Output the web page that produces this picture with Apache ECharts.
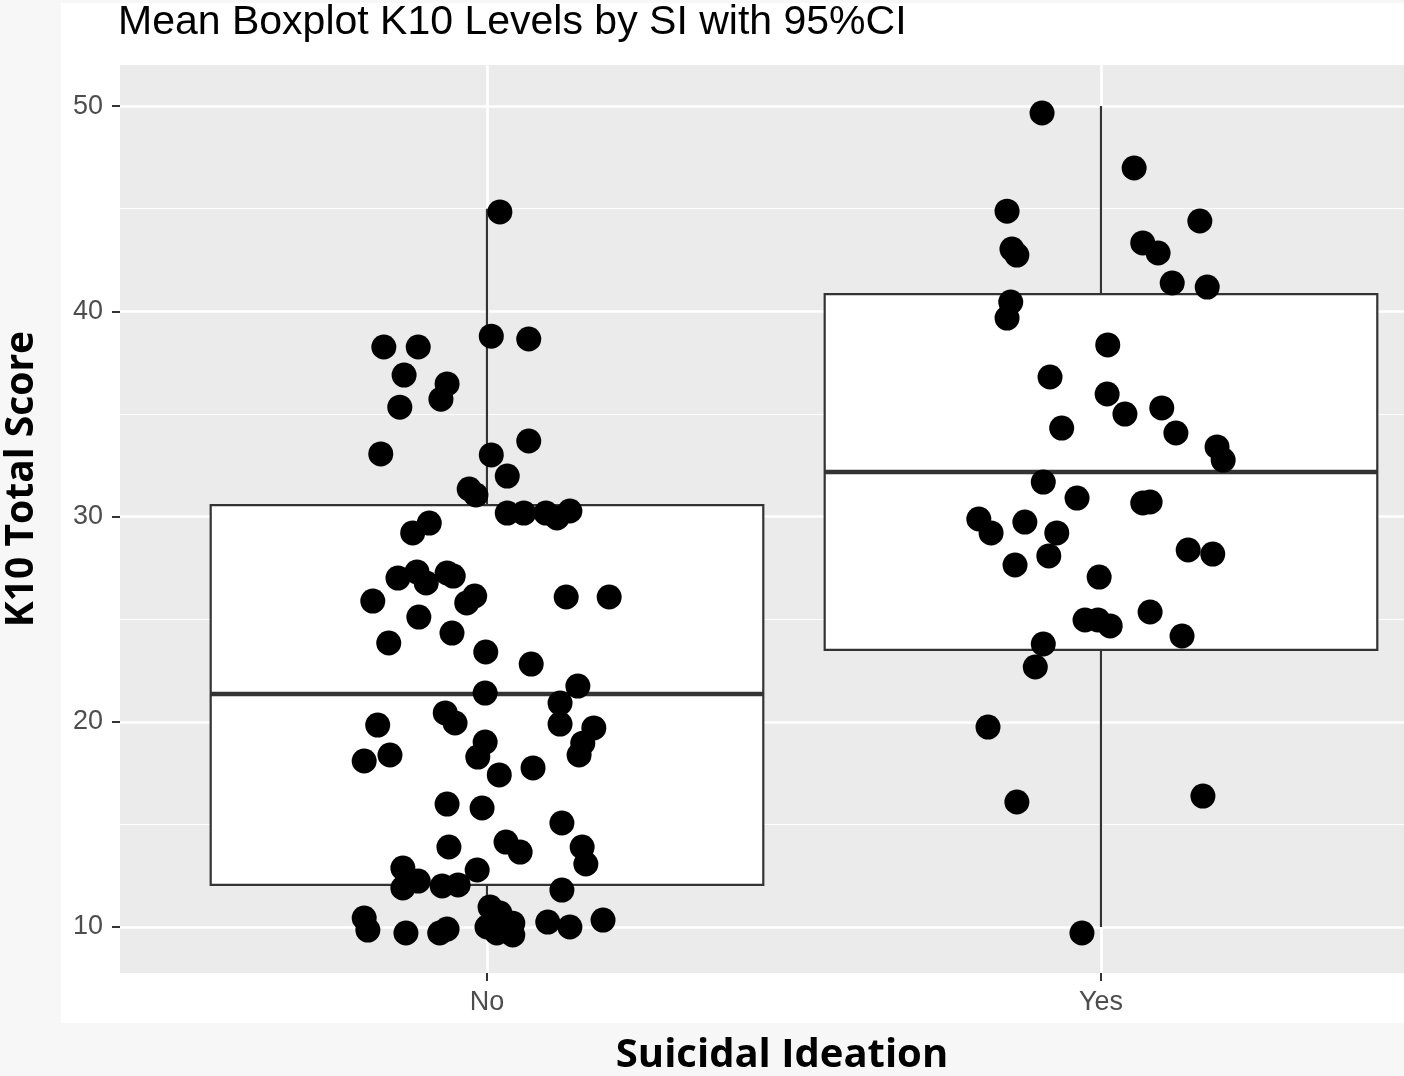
<!DOCTYPE html>
<html>
<head>
<meta charset="utf-8">
<script src="https://cdn.jsdelivr.net/npm/echarts@6/dist/echarts.min.js"></script>
<style>
html,body{margin:0;padding:0;background:#f7f7f7;}
#c{width:1404px;height:1076px;}
</style>
</head>
<body>
<div id="c"></div>
<script>
// ---------- data ----------
const categories = ['No', 'Yes'];
const categoryPos = [1, 2];
const yTicks = [10, 20, 30, 40, 50];
const yMinorTicks = [15, 25, 35, 45];

// box stats: [pos, lowerWhisker, Q1, median, Q3, upperWhisker]
const boxNo  = [1, 10, 12.05, 21.35, 30.56, 45];
const boxYes = [2, 10, 23.5, 32.17, 40.84, 50];

// jittered points [x, K10]
const pointsNo = [
  [1.021,44.84],[0.832,38.26],[0.888,38.26],[0.865,36.89],[0.935,36.46],[0.925,35.72],
  [0.858,35.33],[1.007,38.79],[1.068,38.65],[0.827,33.05],[1.068,33.68],[1.007,33.00],
  [1.033,31.97],[0.971,31.34],[0.982,31.05],[1.033,30.17],[1.060,30.17],[1.096,30.17],
  [1.114,29.93],[1.135,30.27],[0.906,29.68],[0.879,29.20],[0.855,27.00],[0.886,27.30],
  [0.901,26.76],[0.935,27.25],[0.945,27.10],[0.814,25.88],[0.889,25.10],[0.967,25.79],
  [0.980,26.13],[1.129,26.08],[1.199,26.08],[0.840,23.84],[0.943,24.32],[0.998,23.40],
  [1.072,22.81],[1.148,21.74],[0.997,21.40],[1.119,20.91],[1.119,19.89],[0.932,20.43],
  [0.948,19.94],[1.174,19.70],[1.156,18.96],[1.150,18.38],[0.822,19.84],[0.842,18.38],
  [0.800,18.09],[0.997,19.01],[0.985,18.28],[1.020,17.41],[1.075,17.75],[0.935,15.99],
  [0.992,15.80],[1.122,15.07],[0.938,13.90],[1.031,14.14],[1.054,13.65],[1.155,13.90],
  [1.161,13.07],[0.863,12.87],[0.888,12.24],[0.863,11.90],[0.927,12.00],[0.953,12.05],
  [0.984,12.78],[1.122,11.80],[0.800,10.44],[0.806,9.85],[0.868,9.71],[0.923,9.71],
  [0.935,9.90],[1.005,10.97],[1.000,10.00],[1.021,10.68],[1.042,10.19],[1.042,9.61],
  [1.016,9.71],[1.099,10.24],[1.135,10.00],[1.189,10.34]
];
const pointsYes = [
  [1.904,49.66],[2.054,46.98],[1.847,44.88],[1.855,43.03],[1.863,42.74],[2.161,44.40],
  [2.068,43.33],[2.093,42.84],[2.116,41.38],[2.173,41.18],[1.853,40.45],[1.847,39.67],
  [2.011,38.36],[1.917,36.80],[2.010,35.97],[2.039,34.99],[2.099,35.29],[2.122,34.07],
  [1.936,34.31],[2.189,33.39],[2.199,32.75],[1.906,31.68],[1.961,30.90],[2.068,30.66],
  [2.080,30.71],[1.801,29.88],[1.821,29.20],[1.876,29.73],[1.928,29.20],[1.915,28.08],
  [1.860,27.64],[2.142,28.37],[2.182,28.17],[1.997,27.05],[1.974,24.96],[1.995,24.96],
  [2.015,24.67],[2.080,25.35],[2.132,24.18],[1.906,23.79],[1.893,22.67],[1.816,19.74],
  [1.863,16.09],[2.166,16.38],[1.969,9.71]
];

// ---------- chart ----------
const chart = echarts.init(document.getElementById('c'), null, {renderer: 'canvas'});
const BOX_W = 0.9;
const boxLine = '#333333';

const gridLines = [];
yTicks.forEach(v => gridLines.push({yAxis: v, lineStyle: {width: 2.6}}));
yMinorTicks.forEach(v => gridLines.push({yAxis: v, lineStyle: {width: 1.2}}));
categoryPos.forEach(v => gridLines.push({xAxis: v, lineStyle: {width: 2.6}}));

const option = {
  backgroundColor: '#f7f7f7',
  animation: false,
  graphic: [
    {type: 'rect', z: -10, silent: true, shape: {x: 61, y: 3, width: 1343, height: 1020}, style: {fill: '#ffffff'}},
    {type: 'text', z: 10, silent: true,
      x: 22, y: 479, rotation: Math.PI / 2,
      style: {text: 'K10 Total Score', font: 'bold 39px "Open Sans"', fill: '#000', align: 'center', verticalAlign: 'middle'}},
    {type: 'text', z: 10, silent: true,
      x: 782, y: 1056,
      style: {text: 'Suicidal Ideation', font: 'bold 40px "Open Sans"', fill: '#000', align: 'center', verticalAlign: 'middle'}}
  ],
  title: {
    text: 'Mean Boxplot K10 Levels by SI with 95%CI',
    left: 113, top: -3,
    textStyle: {fontFamily: 'Liberation Sans', fontSize: 41, fontWeight: 'normal', color: '#000'}
  },
  grid: {left: 120, right: 0, top: 65, bottom: 103, show: true, backgroundColor: '#ebebeb', borderWidth: 0},
  xAxis: {
    type: 'value', min: 0.4023, max: 2.4935,
    axisLine: {show: false},
    splitLine: {show: false},
    axisTick: {show: true, customValues: categoryPos, length: 8, lineStyle: {color: '#333', width: 2}},
    axisLabel: {customValues: categoryPos, margin: 16, color: '#4d4d4d', fontSize: 27, fontFamily: 'Liberation Sans',
      formatter: v => categories[categoryPos.indexOf(Math.round(v))] || ''}
  },
  yAxis: {
    type: 'value', min: 7.76, max: 52.0,
    axisLine: {show: false},
    splitLine: {show: false},
    axisTick: {show: true, customValues: yTicks, length: 8, lineStyle: {color: '#333', width: 2}},
    axisLabel: {customValues: yTicks, margin: 17, color: '#4d4d4d', fontSize: 27, fontFamily: 'Liberation Sans'}
  },
  series: [
    {
      type: 'scatter', data: [], z: 1, silent: true,
      markLine: {z: 1, silent: true, symbol: 'none', animation: false, label: {show: false},
        lineStyle: {color: '#ffffff', type: 'solid'}, data: gridLines}
    },
    {
      type: 'custom', z: 10, silent: true,
      data: [boxNo, boxYes],
      encode: {x: 0, y: [1, 2, 3, 4, 5]},
      renderItem: function (params, api) {
        const x = api.value(0);
        const half = api.size([BOX_W, 0])[0] / 2;
        const pMin = api.coord([x, api.value(1)]);
        const pQ1 = api.coord([x, api.value(2)]);
        const pMed = api.coord([x, api.value(3)]);
        const pQ3 = api.coord([x, api.value(4)]);
        const pMax = api.coord([x, api.value(5)]);
        const ls = {stroke: boxLine, lineWidth: 2.2};
        return {
          type: 'group',
          children: [
            {type: 'line', shape: {x1: pMax[0], y1: pMax[1], x2: pQ3[0], y2: pQ3[1]}, style: ls},
            {type: 'line', shape: {x1: pQ1[0], y1: pQ1[1], x2: pMin[0], y2: pMin[1]}, style: ls},
            {type: 'rect', shape: {x: pQ3[0] - half, y: pQ3[1], width: half * 2, height: pQ1[1] - pQ3[1]},
              style: {fill: '#ffffff', stroke: boxLine, lineWidth: 2.2}},
            {type: 'line', shape: {x1: pMed[0] - half, y1: pMed[1], x2: pMed[0] + half, y2: pMed[1]},
              style: {stroke: boxLine, lineWidth: 4.5}}
          ]
        };
      }
    },
    {
      type: 'scatter', z: 11, silent: true, symbolSize: 25,
      itemStyle: {color: '#000000', opacity: 1},
      data: pointsNo
    },
    {
      type: 'scatter', z: 11, silent: true, symbolSize: 25,
      itemStyle: {color: '#000000', opacity: 1},
      data: pointsYes
    }
  ]
};
chart.setOption(option);
</script>
</body>
</html>
